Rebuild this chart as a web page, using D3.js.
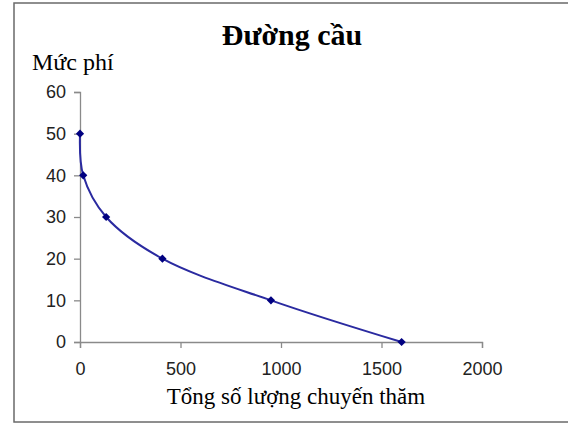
<!DOCTYPE html>
<html lang=vi>
<head>
	<meta charset="utf-8">
	<title>Đường cầu</title>
	<script src="https://cdn.jsdelivr.net/npm/d3@7"></script>
	<style>
		body { margin: 0; background: #fff; }
		svg { display: block; }
	</style>
</head>

<body>
	<script type="text/javascript">
	// so lieu doc tu hinh
	var quantities = [0, 16, 130, 410, 950, 1600];
	var prices = [50, 40, 30, 20, 10, 0];
	var xTicks = [0, 500, 1000, 1500, 2000];
	var yTicks = [0, 10, 20, 30, 40, 50, 60];

	var points = quantities.map(function(q, i){
		return {q: q, p: prices[i]};
	});

	var W = 568, H = 425;

	var svg = d3.select('body')
				.append('svg')
				.attr('width', W)
				.attr('height', H);

	// khung ngoai
	svg.append('rect')
		.attr('x', 14)
		.attr('y', 3)
		.attr('width', 620)
		.attr('height', 419)
		.attr('fill', '#fff')
		.attr('stroke', '#6a6a6a')
		.attr('stroke-width', 1.5);

	var x = d3.scaleLinear().domain([0, 2000]).range([80, 482]);
	var y = d3.scaleLinear().domain([0, 60]).range([342, 92]);

	var xAxis = svg.append('g')
				.attr('transform', 'translate(0,342)')
				.call(d3.axisBottom(x).tickValues(xTicks).tickSize(6).tickPadding(14).tickFormat(d3.format('d')));

	var yAxis = svg.append('g')
				.attr('transform', 'translate(80,0)')
				.call(d3.axisLeft(y).tickValues(yTicks).tickSize(6).tickPadding(8).tickFormat(d3.format('d')));

	[xAxis, yAxis].forEach(function(g){
		g.select('.domain').attr('stroke', '#8a8a8a').attr('stroke-width', 1.3);
		g.selectAll('.tick line').attr('stroke', '#8a8a8a').attr('stroke-width', 1.3);
		g.selectAll('.tick text')
			.attr('fill', '#222')
			.style('font-family', 'Liberation Sans, Arial, sans-serif')
			.style('font-size', '18px');
	});

	var line = d3.line()
				.x(function(d){ return x(d.q); })
				.y(function(d){ return y(d.p); })
				.curve(d3.curveCatmullRom.alpha(0.5));

	svg.append('path')
		.datum(points)
		.attr('d', line)
		.attr('fill', 'none')
		.attr('stroke', '#2a2aa0')
		.attr('stroke-width', 2);

	// diamond kieu Excel: hinh vuong xoay 45 do
	svg.selectAll('.marker')
		.data(points)
		.enter()
		.append('path')
		.attr('class', 'marker')
		.attr('d', d3.symbol().type(d3.symbolSquare).size(34))
		.attr('transform', function(d){
			return 'translate(' + x(d.q) + ',' + y(d.p) + ') rotate(45)';
		})
		.attr('fill', '#000080');

	// chu
	svg.append('text')
		.text('Đường cầu')
		.attr('x', 292)
		.attr('y', 45)
		.attr('text-anchor', 'middle')
		.style('font-family', 'Liberation Serif, Times New Roman, serif')
		.style('font-weight', 'bold')
		.style('font-size', '30px')
		.attr('fill', '#000');

	svg.append('text')
		.text('Mức phí')
		.attr('x', 32)
		.attr('y', 70)
		.style('font-family', 'Liberation Serif, Times New Roman, serif')
		.style('font-size', '24px')
		.attr('fill', '#000');

	svg.append('text')
		.text('Tổng số lượng chuyến thăm')
		.attr('x', 296)
		.attr('y', 404)
		.attr('text-anchor', 'middle')
		.style('font-family', 'Liberation Serif, Times New Roman, serif')
		.style('font-size', '23px')
		.attr('fill', '#000');

	</script>
</body>
</html>
